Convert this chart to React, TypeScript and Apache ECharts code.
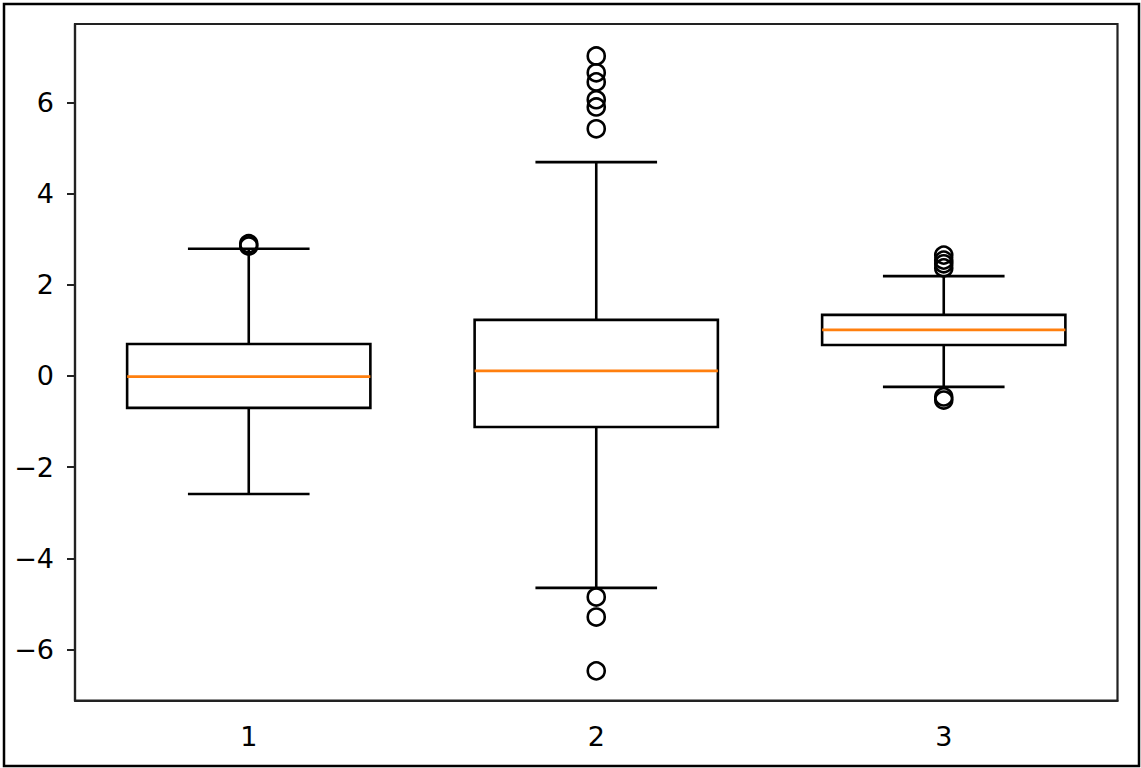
import React, { useEffect, useRef } from "react";
import * as echarts from "echarts";

const categories = ["1", "2", "3"];
// [low whisker, Q1, median, Q3, high whisker]
const boxStats = [
  [-2.59, -0.7, -0.015, 0.7, 2.79],
  [-4.65, -1.12, 0.11, 1.23, 4.69],
  [-0.24, 0.68, 1.01, 1.34, 2.19],
];
const outliers1 = [2.9, 2.85];
const outliers2 = [7.02, 6.65, 6.45, 6.06, 5.9, 5.42, -4.85, -5.29, -6.47];
const outliers3 = [2.65, 2.54, 2.46, 2.37, -0.46, -0.53];
const yTicks = [-6, -4, -2, 0, 2, 4, 6];
const yMin = -7.12;
const yMax = 7.72;

const fmt = (v: number) => (v < 0 ? "\u2212" + Math.abs(v) : String(v));

export default function App() {
  const ref = useRef<HTMLDivElement>(null);
  useEffect(() => {
    if (!ref.current) return;
    const chart = echarts.init(ref.current, null, { renderer: "svg" });
    const boxData = boxStats.map((s, i) => [i, ...s]);
    const outData: number[][] = [];
    [outliers1, outliers2, outliers3].forEach((arr, i) =>
      arr.forEach((v) => outData.push([i, v]))
    );
    const font = "DejaVu Sans";
    chart.setOption({
      animation: false,
      backgroundColor: "#fff",
      grid: {
        left: 75,
        top: 24,
        right: 23.5,
        bottom: 67.5,
        show: true,
        borderColor: "#222",
        borderWidth: 2.2,
        backgroundColor: "transparent",
      },
      graphic: [
        {
          type: "rect",
          shape: { x: 4, y: 4, width: 1135, height: 762 },
          style: { fill: "none", stroke: "#000", lineWidth: 2.5 },
          silent: true,
        },
      ],
      xAxis: {
        type: "category",
        data: categories,
        boundaryGap: true,
        axisLine: { onZero: false, lineStyle: { color: "#222", width: 2.2 } },
        axisTick: { alignWithLabel: true, length: 8, lineStyle: { color: "#222", width: 2 } },
        axisLabel: { color: "#000", fontSize: 27, fontFamily: font, margin: 22 },
        splitLine: { show: false },
      },
      yAxis: {
        type: "value",
        min: yMin,
        max: yMax,
        axisLine: { show: true, onZero: false, lineStyle: { color: "#222", width: 2.2 } },
        axisTick: {
          show: true,
          length: 8,
          customValues: yTicks,
          lineStyle: { color: "#222", width: 2 },
        },
        axisLabel: {
          customValues: yTicks,
          color: "#000",
          fontSize: 27,
          fontFamily: font,
          margin: 21,
          formatter: (v: number) => fmt(v),
        },
        splitLine: { show: false },
      },
      series: [
        {
          type: "custom",
          data: boxData,
          encode: { x: 0, y: [1, 2, 3, 4, 5] },
          renderItem: (params: any, api: any) => {
            const x = api.value(0);
            const pLow = api.coord([x, api.value(1)]);
            const pQ1 = api.coord([x, api.value(2)]);
            const pMed = api.coord([x, api.value(3)]);
            const pQ3 = api.coord([x, api.value(4)]);
            const pHigh = api.coord([x, api.value(5)]);
            const band = api.size([1, 0])[0];
            const bw = band * 0.7;
            const cw = bw / 2;
            const cx = pMed[0];
            const black = { stroke: "#000", lineWidth: 2.6, fill: "none" };
            return {
              type: "group",
              children: [
                {
                  type: "rect",
                  shape: { x: cx - bw / 2, y: pQ3[1], width: bw, height: pQ1[1] - pQ3[1] },
                  style: black,
                },
                {
                  type: "line",
                  shape: { x1: cx, y1: pQ3[1], x2: cx, y2: pHigh[1] },
                  style: black,
                },
                {
                  type: "line",
                  shape: { x1: cx, y1: pQ1[1], x2: cx, y2: pLow[1] },
                  style: black,
                },
                {
                  type: "line",
                  shape: { x1: cx - cw / 2, y1: pHigh[1], x2: cx + cw / 2, y2: pHigh[1] },
                  style: black,
                },
                {
                  type: "line",
                  shape: { x1: cx - cw / 2, y1: pLow[1], x2: cx + cw / 2, y2: pLow[1] },
                  style: black,
                },
                {
                  type: "line",
                  shape: { x1: cx - bw / 2, y1: pMed[1], x2: cx + bw / 2, y2: pMed[1] },
                  style: { stroke: "#ff7f0e", lineWidth: 2.6 },
                },
              ],
            };
          },
          z: 2,
        },
        {
          type: "scatter",
          data: outData,
          symbol: "circle",
          symbolSize: 17,
          itemStyle: {
            color: "rgba(0,0,0,0)",
            borderColor: "#000",
            borderWidth: 2.6,
            opacity: 1,
          },
          z: 3,
        },
      ],
    });
    return () => chart.dispose();
  }, []);
  return (
    <div
      ref={ref}
      style={{ position: "fixed", left: 0, top: 0, width: 1141, height: 768 }}
    />
  );
}
